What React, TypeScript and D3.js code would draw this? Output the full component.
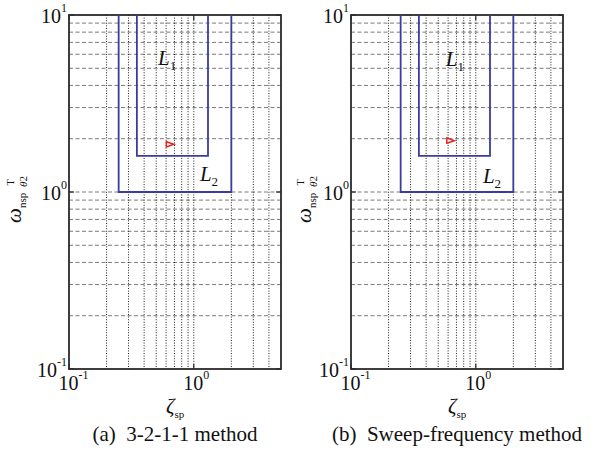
import React from "react";
import * as d3 from "d3";

// ---- data ----
const panelCaptions = ["(a)  3-2-1-1 method", "(b)  Sweep-frequency method"];
const xDomain = [0.1, 5];
const yDomain = [0.1, 10];
const xMajorTicks = [0.1, 1];
const xMajorExp = ["-1", "0"];
const yMajorTicks = [0.1, 1, 10];
const yMajorExp = ["-1", "0", "1"];
const xGridValues = [0.2, 0.3, 0.4, 0.5, 0.6, 0.7, 0.8, 0.9, 1, 2, 3, 4];
const yGridValues = [0.2, 0.3, 0.4, 0.5, 0.6, 0.7, 0.8, 0.9, 1, 2, 3, 4, 5, 6, 7, 8, 9];

// flying-quality level boundaries (open-top boxes)
const levelNames = ["1", "2"];
const levelZetaMin = [0.35, 0.25];
const levelZetaMax = [1.3, 2.0];
const levelOmegaMin = [1.6, 1.0];
const levelOmegaMax = [10, 10];

// identified point for each panel
const pointZeta = [0.643, 0.625];
const pointOmega = [1.86, 1.95];

// level label anchors (data coords) per panel
const labelL1Zeta = [0.517, 0.574];
const labelL1Omega = [5.22, 5.15];
const labelL2Zeta = [1.12, 1.14];
const labelL2Omega = [1.154, 1.12];

const FONT = "Liberation Serif";
const BLUE = "#3c3c9e";

const panelLeft = [69, 351];
const panelWidth = 212;
const panelTop = 15;
const panelBottom = 369;
const yLabelX = [0, 290];

const tf = { fontFamily: FONT };

function Panel({ i }: { i: number }) {
  const x0 = panelLeft[i];
  const x = d3.scaleLog().domain(xDomain).range([x0, x0 + panelWidth]);
  const y = d3.scaleLog().domain(yDomain).range([panelBottom, panelTop]);
  const [xa, xb] = x.range();
  const [yb, ya] = y.range();
  const line = d3.line<[number, number]>().x((d) => x(d[0])).y((d) => y(d[1]));

  const px = x(pointZeta[i]);
  const py = y(pointOmega[i]);
  const tri = `M${px - 3.5},${py - 2.6} L${px + 4},${py} L${px - 3.5},${py + 2.6} Z`;

  const cx = (xa + xb) / 2;
  const lx = yLabelX[i];

  return (
    <g>
      {/* grid */}
      {yGridValues.map((v) => (
        <line key={"h" + v} x1={xa} x2={xb} y1={y(v)} y2={y(v)} stroke="#7a7a7a" strokeWidth={1} strokeDasharray="4,2.5" />
      ))}
      {xGridValues.map((v) => (
        <line key={"v" + v} x1={x(v)} x2={x(v)} y1={ya} y2={yb} stroke="#1e1e1e" strokeWidth={1} strokeDasharray="1,1.6" />
      ))}
      {/* ticks */}
      {xMajorTicks.map((v) => (
        <g key={"xt" + v}>
          <line x1={x(v)} x2={x(v)} y1={yb} y2={yb - 5} stroke="#222" strokeWidth={1.2} />
          <line x1={x(v)} x2={x(v)} y1={ya} y2={ya + 5} stroke="#222" strokeWidth={1.2} />
        </g>
      ))}
      {yMajorTicks.map((v) => (
        <g key={"yt" + v}>
          <line x1={xa} x2={xa + 5} y1={y(v)} y2={y(v)} stroke="#222" strokeWidth={1.2} />
          <line x1={xb} x2={xb - 5} y1={y(v)} y2={y(v)} stroke="#222" strokeWidth={1.2} />
        </g>
      ))}
      {/* frame */}
      <rect x={xa} y={ya} width={xb - xa} height={yb - ya} fill="none" stroke="#2a2a2a" strokeWidth={1.8} />
      {/* level boundaries */}
      {levelNames.map((n, k) => (
        <path
          key={"lv" + n}
          d={line([
            [levelZetaMin[k], levelOmegaMax[k]],
            [levelZetaMin[k], levelOmegaMin[k]],
            [levelZetaMax[k], levelOmegaMin[k]],
            [levelZetaMax[k], levelOmegaMax[k]],
          ]) || ""}
          fill="none"
          stroke={BLUE}
          strokeWidth={1.8}
        />
      ))}
      {/* point */}
      <path d={tri} fill="white" stroke="#e8231f" strokeWidth={1.5} strokeLinejoin="miter" />
      {/* level labels */}
      <text x={x(labelL1Zeta[i])} y={y(labelL1Omega[i])} style={tf} fontSize={21} fill="#111">
        <tspan fontStyle="italic">L</tspan>
        <tspan fontSize={13} dy={5}>{levelNames[0]}</tspan>
      </text>
      <text x={x(labelL2Zeta[i])} y={y(labelL2Omega[i])} style={tf} fontSize={21} fill="#111">
        <tspan fontStyle="italic">L</tspan>
        <tspan fontSize={13} dy={5}>{levelNames[1]}</tspan>
      </text>
      {/* y tick labels */}
      {yMajorTicks.map((v, k) => (
        <text key={"yl" + v} x={xa - 2} y={y(v) + 7.5} style={tf} fontSize={20} textAnchor="end" fill="#111">
          10<tspan fontSize={12} dy={-11}>{yMajorExp[k]}</tspan>
        </text>
      ))}
      {/* x tick labels */}
      {xMajorTicks.map((v, k) => (
        <text key={"xl" + v} x={x(v) - 10.5} y={390} style={tf} fontSize={20} fill="#111">
          10<tspan fontSize={12} dy={-11}>{xMajorExp[k]}</tspan>
        </text>
      ))}
      {/* x axis label */}
      <text x={cx - 9} y={413} style={tf} fontSize={21} fill="#111">
        <tspan fontStyle="italic">ζ</tspan>
        <tspan fontSize={11} dy={5}>sp</tspan>
      </text>
      {/* y axis label */}
      <g transform={`translate(${lx},0) rotate(-90)`} fill="#111">
        <text x={-223} y={20.5} style={tf} fontSize={21} fontStyle="italic">ω</text>
        <text x={-208} y={25.5} style={tf} fontSize={11}>nsp</text>
        <text x={-187} y={26.5} style={tf} fontSize={11}>
          <tspan fontStyle="italic">θ</tspan>2
        </text>
        <text x={-185.5} y={13.5} style={tf} fontSize={10}>T</text>
      </g>
      {/* caption */}
      <text x={cx} y={441} style={{ ...tf, whiteSpace: "pre" }} fontSize={21} textAnchor="middle" fill="#111">
        {panelCaptions[i]}
      </text>
    </g>
  );
}

export default function App() {
  return (
    <svg width={598} height={450} style={{ position: "absolute", left: 0, top: 0, background: "white" }}>
      <rect width={598} height={450} fill="white" />
      <Panel i={0} />
      <Panel i={1} />
    </svg>
  );
}
